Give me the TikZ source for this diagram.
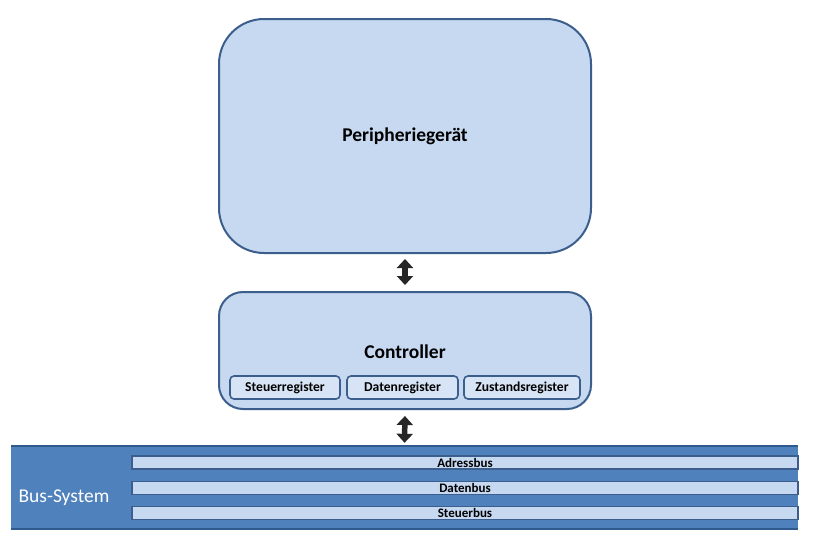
\documentclass[tikz,border=0pt]{standalone}
\usepackage{fontspec}
\setmainfont{Carlito}
\usetikzlibrary{arrows.meta}
\definecolor{boxfill}{HTML}{C6D9F1}
\definecolor{boxline}{HTML}{3B5E8C}
\definecolor{busfill}{HTML}{4F81BD}
\definecolor{busline}{HTML}{2F5A8E}
\begin{document}
\begin{tikzpicture}[x=1pt,y=-1pt,
  bigbox/.style={draw=boxline,fill=boxfill,line width=2pt,inner sep=0pt},
  regbox/.style={draw=boxline,fill=boxfill!70!white,line width=1.6pt,rounded corners=4pt,inner sep=0pt,minimum height=23pt,font=\fontsize{13.6}{15}\selectfont\bfseries},
  barbox/.style={draw=boxline,fill=boxfill,line width=1.4pt,inner sep=0pt,minimum height=13pt,minimum width=666pt,font=\fontsize{13}{14}\selectfont\bfseries},
  biarrow/.style={{Triangle[length=9pt,width=16pt]}-{Triangle[length=9pt,width=16pt]},line width=5.5pt,black!85}
]
\useasboundingbox (0,0) rectangle (821,536);
\fill[white] (0,0) rectangle (821,536);
% Peripheral
\node[bigbox,rounded corners=45pt,minimum width=372pt,minimum height=234pt,font=\fontsize{19.5}{21}\selectfont\bfseries] (per) at (405,136) {Peripheriegerät};
% Controller
\node[bigbox,rounded corners=24pt,minimum width=372pt,minimum height=117pt] (ctl) at (405,350.5) {};
\node[font=\fontsize{19.5}{21}\selectfont\bfseries] (ctltext) at (405,352) {Controller};
\node[regbox,minimum width=110pt] (reg1) at (285,387.5) {Steuerregister};
\node[regbox,minimum width=111pt] (reg2) at (402.5,387.5) {Datenregister};
\node[regbox,minimum width=116pt] (reg3) at (522,387.5) {Zustandsregister};
% Bus system
\node[fill=busfill,minimum width=787pt,minimum height=83pt,inner sep=0pt] (bus) at (404.5,487.5) {};
\draw[busline,line width=2pt] (bus.north west) -- (bus.north east);
\draw[busline,line width=2pt] (bus.south west) -- (bus.south east);
\node[text=white,font=\fontsize{19.5}{21}\selectfont,anchor=base] (bustext) at (64,502) {Bus-System};
\node[barbox] (adr) at (465,462.5) {Adressbus};
\node[barbox] (dat) at (465,488) {Datenbus};
\node[barbox] (ste) at (465,513) {Steuerbus};
% arrows
\draw[biarrow,shorten <=5pt,shorten >=6pt] (per.south) -- (ctl.north);
\draw[biarrow,shorten <=6pt,shorten >=3pt] (ctl.south) -- (bus.north);
\end{tikzpicture}
\end{document}
